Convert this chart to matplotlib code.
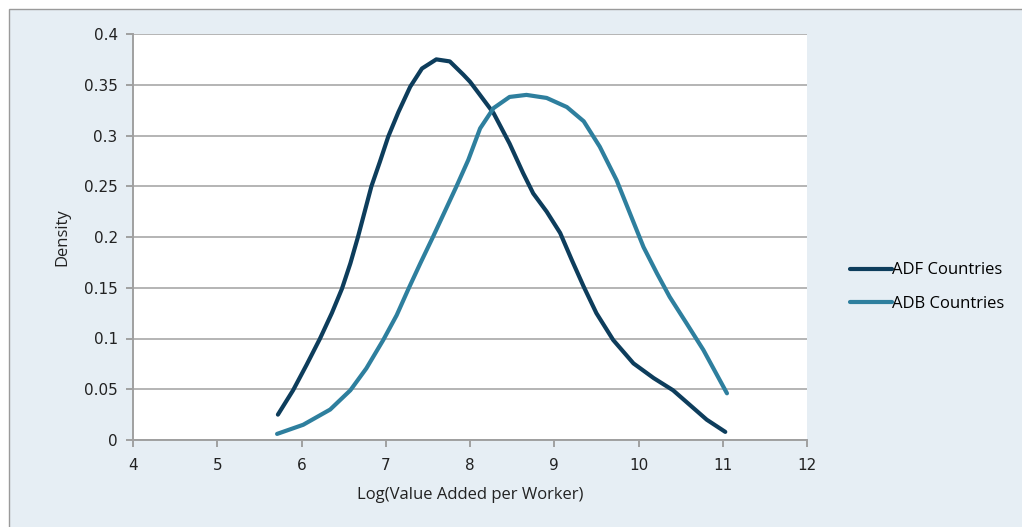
import matplotlib.pyplot as plt
from matplotlib.patches import Rectangle

# density curves
adf_x = [5.72, 5.90, 6.06, 6.22, 6.36, 6.48, 6.58, 6.67, 6.75, 6.83, 6.93, 7.03,
         7.15, 7.29, 7.43, 7.60, 7.76, 7.92, 8.00, 8.10, 8.28, 8.47, 8.63, 8.75,
         8.91, 9.07, 9.21, 9.35, 9.50, 9.70, 9.94, 10.18, 10.41, 10.61, 10.81,
         11.03]
adf_y = [0.025, 0.049, 0.074, 0.100, 0.125, 0.149, 0.174, 0.200, 0.225, 0.250,
         0.274, 0.299, 0.323, 0.348, 0.366, 0.375, 0.373, 0.360, 0.353, 0.342,
         0.322, 0.292, 0.263, 0.243, 0.225, 0.204, 0.177, 0.151, 0.125, 0.0985,
         0.0755, 0.061, 0.049, 0.0345, 0.020, 0.008]

adb_x = [5.71, 6.02, 6.34, 6.58, 6.77, 6.97, 7.13, 7.27, 7.41, 7.56, 7.70, 7.84,
         7.98, 8.12, 8.28, 8.47, 8.67, 8.91, 9.15, 9.35, 9.54, 9.74, 9.90, 10.06,
         10.22, 10.37, 10.57, 10.77, 11.05]
adb_y = [0.006, 0.015, 0.030, 0.049, 0.0706, 0.0985, 0.123, 0.149, 0.174, 0.200,
         0.225, 0.250, 0.276, 0.307, 0.327, 0.338, 0.340, 0.337, 0.328, 0.314,
         0.289, 0.256, 0.223, 0.190, 0.164, 0.141, 0.115, 0.0887, 0.046]

labels = ['ADF Countries', 'ADB Countries']
colors = ['#0d3d5c', '#2e7f9e']

fig = plt.figure(figsize=(10.22, 5.27), dpi=100)
fig.patch.set_facecolor('white')
# panel background with a thin border on the left and top only
bg = Rectangle((8.5 / 1022, -0.05), 1.0, 1.05 - 8.5 / 527, transform=fig.transFigure,
               facecolor='#e6eef4', edgecolor='#9a9a9a', linewidth=1.0, zorder=-10)
fig.patches.append(bg)

ax = fig.add_axes([133 / 1022, 1 - 440 / 527, (807 - 133) / 1022, (440 - 34) / 527])
ax.set_facecolor('white')

for xs, ys, lab, col in zip([adf_x, adb_x], [adf_y, adb_y], labels, colors):
    ax.plot(xs, ys, color=col, linewidth=3.0, label=lab,
            solid_capstyle='round', solid_joinstyle='round', zorder=3)

ax.set_xlim(4, 12)
ax.set_ylim(0, 0.4)
ax.set_xticks(range(4, 13))
ax.set_yticks([0, 0.05, 0.1, 0.15, 0.2, 0.25, 0.3, 0.35, 0.4])
ax.set_yticklabels(['0', '0.05', '0.1', '0.15', '0.2', '0.25', '0.3', '0.35', '0.4'])
ax.yaxis.grid(True, color='#b4b4b4', linewidth=1.4, zorder=0)
ax.set_axisbelow(True)

for s in ['top', 'right']:
    ax.spines[s].set_visible(False)
for s in ['left', 'bottom']:
    ax.spines[s].set_color('#a0a0a0')
    ax.spines[s].set_linewidth(1.4)

ax.tick_params(axis='both', colors='#a0a0a0', labelcolor='#222222',
               labelsize=11, length=5, width=1.4, direction='out')
ax.tick_params(axis='y', pad=6)
ax.tick_params(axis='x', pad=8)

ax.set_xlabel('Log(Value Added per Worker)', fontsize=12, family='Open Sans',
              color='#222222', labelpad=10)
ax.set_ylabel('Density', fontsize=12, family='Open Sans', color='#222222',
              labelpad=10)

fig.legend(loc='center left', bbox_to_anchor=(0.817, 0.455), frameon=False,
           prop={'family': 'Open Sans', 'size': 12}, handlelength=2.5,
           handletextpad=0.05, labelspacing=1.05)

fig.savefig('out.png', dpi=100, facecolor=fig.get_facecolor())
